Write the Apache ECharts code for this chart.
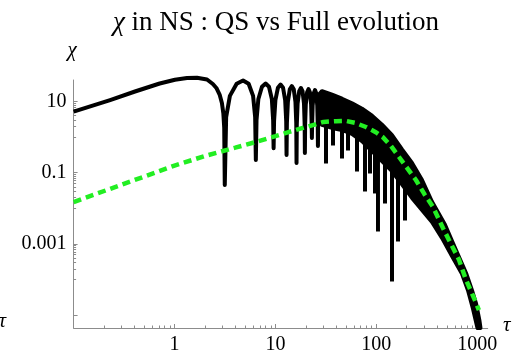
<!DOCTYPE html>
<html>
<head>
<meta charset="utf-8">
<script src="https://cdn.jsdelivr.net/npm/echarts@6/dist/echarts.min.js"></script>
<style>
  html, body { margin: 0; padding: 0; background: #fff; }
  #chart { width: 512px; height: 360px; }
</style>
</head>
<body>
<div id="chart"></div>
<script>
// full evolution: first lobe, then the resolved arches (dips)
const fullTau = [
  0.1, 0.23, 0.406, 0.713, 1.01, 1.33, 1.67, 2.1, 2.4, 2.6, 2.8, 2.95, 3.05, 3.11, 3.15,
  3.25, 3.54, 4.13, 4.78, 5.43, 6.01, 6.30, 6.4,
  6.5, 6.78, 7.36, 8.0, 8.64, 9.22, 9.5, 9.6,
  9.7, 10.0, 10.59, 11.25, 11.91, 12.5, 12.8, 12.9,
  13.0, 13.3, 13.89, 14.55, 15.21, 15.8, 16.1, 16.2,
  16.3, 16.6, 17.22, 17.9, 18.58, 19.2, 19.5, 19.6,
  19.7, 20.0, 20.62, 21.3, 21.98, 22.6, 22.9, 23.0,
  23.1, 23.4, 24.02, 24.7, 25.38, 26.0, 26.3, 26.4,
  26.5, 26.8, 27.4, 28.95
]
const fullChi = [
  5.17, 11.0, 19.1, 32, 40.7, 45.7, 46.3, 41.5, 31, 24, 15.7, 9.1, 4.6, 1.84, 0.045,
  3.65, 14.4, 31.6, 39, 31.6, 14.4, 3.65, 0.227,
  3.0, 11.8, 25.9, 32, 25.9, 11.8, 3.0, 0.49,
  2.8, 11, 24.3, 30, 24.3, 11, 2.8, 0.314,
  2.5, 9.9, 21.9, 27, 21.9, 9.9, 2.5, 0.187,
  2.26, 8.8, 19.4, 24, 19.4, 8.8, 2.26, 0.357,
  2.1, 8.2, 18.1, 22.4, 18.1, 8.2, 2.1, 0.94,
  2.0, 7.7, 17, 21, 17, 7.7, 2.0, 0.56,
  2.0, 7.5, 16.5, 19.5
]

// dense oscillation region: upper envelope and lower solid edge
const bandTopTau = [28.95, 36.39, 45.73, 57.43, 72.16, 90.66, 113.9, 143.1, 179.8, 225.9, 283.8, 356.5, 479.6, 562.7, 660.0, 774.5, 888.2, 972.9, 1054, 1078]
const bandTopChi = [19.47, 15.52, 11.99, 8.96, 6.28, 3.99, 2.23, 1.13, 0.451, 0.1885, 0.0624, 0.01523, 0.00344, 0.001207, 0.000429, 0.0001523, 0.0000497, 0.0000215, 0.00000683, 0.00000434]
const bandLowTau = [28.95, 36.39, 45.73, 57.43, 72.16, 90.66, 113.9, 143.1, 179.8, 225.9, 283.8, 356.5, 447.8, 562.7, 707.0, 810.6, 908.6, 1007]
const bandLowChi = [2.20, 1.81, 1.59, 1.23, 0.767, 0.402, 0.2104, 0.1102, 0.0475, 0.0196, 0.00902, 0.00415, 0.001475, 0.00046, 0.0001436, 0.0000497, 0.00001503, 0.00000434]

// single deep dips poking out of the dense region
const spikeTau = [31.72, 37.23, 45.73, 52.43, 64.38, 77.27, 86.6, 97.1, 103.9, 122.0, 143.1, 164.1, 192.5]
const spikeTop = [3, 2.5, 2.2, 2, 1.5, 1, 0.7, 0.5, 0.4, 0.3, 0.16, 0.1, 0.055]
const spikeLow = [0.1813, 0.581, 0.2505, 0.4203, 0.108, 0.02965, 0.095, 0.0261, 0.00223, 0.01364, 0.0000879, 0.001168, 0.004543]

// quasi-static curve
const qsTau = [0.1, 1, 2, 4, 6.4, 10, 14, 20, 30, 40, 50, 62, 79, 100, 116, 140, 168, 200, 247, 300, 365, 458, 525, 660, 774, 929, 1040]
const qsChi = [0.015, 0.158, 0.295, 0.505, 0.73, 1.06, 1.43, 1.91, 2.67, 2.8, 2.85, 2.5, 1.92, 1.35, 1.0, 0.56, 0.276, 0.141, 0.0624, 0.025, 0.0109, 0.0028, 0.00129, 0.00036, 0.0000986, 0.0000302, 0.0000138]

const xMajor = [1, 10, 100, 1000]
const xMinor = [0.2, 0.3, 0.4, 0.5, 0.6, 0.7, 0.8, 0.9, 2, 3, 4, 5, 6, 7, 8, 9, 20, 30, 40, 50, 60, 70, 80, 90, 200, 300, 400, 500, 600, 700, 800, 900]
const yLabels = [10, 0.1, 0.001]
const yMajor = [10, 0.1, 0.001, 0.00001]
const yMinor = [2, 3, 4, 5, 6, 7, 8, 9, 1, 0.02, 0.03, 0.04, 0.05, 0.06, 0.07, 0.08, 0.09, 0.01,
  0.0002, 0.0003, 0.0004, 0.0005, 0.0006, 0.0007, 0.0008, 0.0009, 0.0001]

const serif = 'Liberation Serif'
const axisGray = '#8c8c8c'

const chart = echarts.init(document.getElementById('chart'), null, { renderer: 'canvas' })

const baseX = { type: 'log', logBase: 10, min: 0.1, max: 1271, splitLine: { show: false } }
const baseY = { type: 'log', logBase: 10, min: 0.00000434, max: 40.2, splitLine: { show: false } }

const option = {
  animation: false,
  grid: { left: 73.6, right: 24.3, top: 80, bottom: 32, containLabel: false },
  graphic: [
    {
      type: 'text', x: 276, y: 23,
      style: {
        text: '{i|χ} in NS : QS vs Full evolution',
        fontFamily: serif, fontSize: 27, fill: '#000', align: 'center', verticalAlign: 'middle',
        rich: { i: { fontFamily: serif, fontStyle: 'italic', fontSize: 27 } }
      }
    },
    { type: 'text', x: 72, y: 50, style: { text: 'χ', fontFamily: serif, fontStyle: 'italic', fontSize: 21, fill: '#000', align: 'center', verticalAlign: 'middle' } },
    { type: 'text', x: 503, y: 325, style: { text: 'τ', fontFamily: serif, fontStyle: 'italic', fontSize: 21, fill: '#000', align: 'left', verticalAlign: 'middle' } },
    { type: 'text', x: 6, y: 321, style: { text: 'τ', fontFamily: serif, fontStyle: 'italic', fontSize: 21, fill: '#000', align: 'right', verticalAlign: 'middle' } }
  ],
  xAxis: [
    Object.assign({}, baseX, {
      position: 'bottom',
      axisLine: { show: true, lineStyle: { color: axisGray, width: 1 } },
      axisTick: { show: true, inside: true, length: 4, customValues: xMajor, lineStyle: { color: axisGray } },
      axisLabel: { show: true, customValues: xMajor, margin: 7, fontFamily: serif, fontSize: 20, color: '#000', formatter: v => String(v) }
    }),
    Object.assign({}, baseX, {
      position: 'bottom',
      axisLine: { show: false },
      axisTick: { show: true, inside: true, length: 2.5, customValues: xMinor, lineStyle: { color: axisGray } },
      axisLabel: { show: false }
    })
  ],
  yAxis: [
    Object.assign({}, baseY, {
      position: 'left',
      axisLine: { show: true, lineStyle: { color: axisGray, width: 1 } },
      axisTick: { show: true, inside: true, length: 4, customValues: yMajor, lineStyle: { color: axisGray } },
      axisLabel: { show: true, customValues: yLabels, margin: 7, fontFamily: serif, fontSize: 20, color: '#000', formatter: v => String(v) }
    }),
    Object.assign({}, baseY, {
      position: 'left',
      axisLine: { show: false },
      axisTick: { show: true, inside: true, length: 2.5, customValues: yMinor, lineStyle: { color: axisGray } },
      axisLabel: { show: false }
    })
  ],
  series: [
    {
      name: 'Full',
      type: 'line',
      data: fullTau.map((t, i) => [t, fullChi[i]]),
      showSymbol: false,
      clip: false,
      lineStyle: { color: '#000', width: 4, join: 'round' },
      z: 2
    },
    {
      name: 'Full band',
      type: 'custom',
      data: [[100, 1]],
      clip: false,
      renderItem: (params, api) => {
        const pts = bandTopTau.map((t, i) => api.coord([t, bandTopChi[i]]))
        for (let i = bandLowTau.length - 1; i >= 0; i--) pts.push(api.coord([bandLowTau[i], bandLowChi[i]]))
        return {
          type: 'polygon',
          shape: { points: pts },
          style: { fill: '#000', stroke: '#000', lineWidth: 4, lineJoin: 'round' }
        }
      },
      z: 2
    },
    {
      name: 'Full dips',
      type: 'custom',
      data: spikeTau.map((t, i) => [t, spikeTop[i], spikeLow[i]]),
      encode: { x: 0, y: [1, 2] },
      renderItem: (params, api) => {
        const a = api.coord([api.value(0), api.value(1)])
        const b = api.coord([api.value(0), api.value(2)])
        return {
          type: 'line',
          shape: { x1: a[0], y1: a[1], x2: b[0], y2: b[1] },
          style: { stroke: '#000', lineWidth: 4 }
        }
      },
      z: 2
    },
    {
      name: 'QS',
      type: 'line',
      data: qsTau.map((t, i) => [t, qsChi[i]]),
      showSymbol: false,
      lineStyle: { color: '#22ee22', width: 4.5, type: [8, 5] },
      z: 5
    }
  ]
}

option && chart.setOption(option)
</script>
</body>
</html>
